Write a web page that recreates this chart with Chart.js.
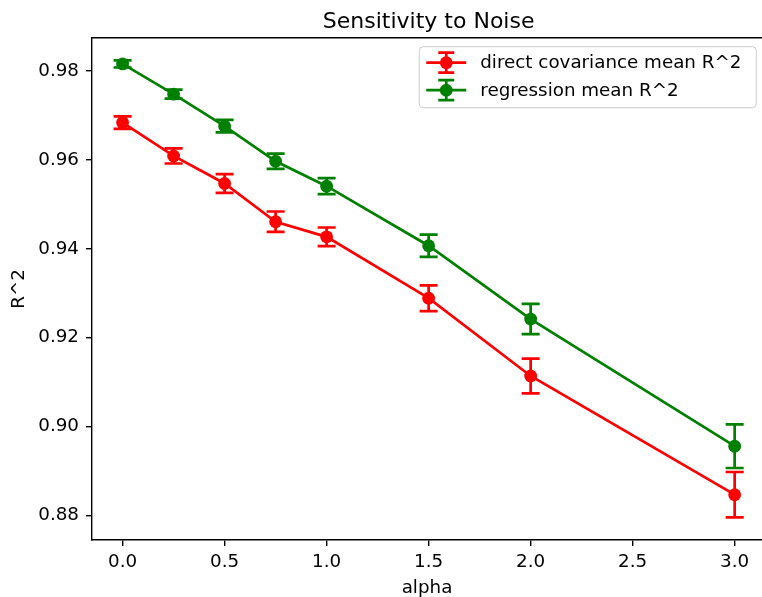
<!DOCTYPE html>
<html>
<head>
<meta charset="utf-8">
<script src="https://cdn.jsdelivr.net/npm/chart.js@4.4.1/dist/chart.umd.min.js"></script>
<style>
    html, body { margin: 0; padding: 0; background: #fff; }
    #wrap { width: 762px; height: 597px; }
</style>
</head>
<body>
<div id="wrap"><canvas id="myChart" width="762" height="597"></canvas></div>
<script>
// Valores
const alphas = [0, 0.25, 0.5, 0.75, 1.0, 1.5, 2.0, 3.0];
const directMean = [0.9684, 0.9609, 0.9547, 0.9461, 0.9427, 0.9289, 0.9114, 0.8847];
const directErr = [0.0014, 0.0017, 0.0021, 0.0023, 0.0021, 0.0029, 0.0039, 0.0051];
const regressionMean = [0.9816, 0.9748, 0.9676, 0.9597, 0.9541, 0.9407, 0.9242, 0.8956];
const regressionErr = [0.0008, 0.0010, 0.0014, 0.0017, 0.0018, 0.0025, 0.0034, 0.0049];

const xTicks = [0, 0.5, 1.0, 1.5, 2.0, 2.5, 3.0];
const yTicks = [0.88, 0.90, 0.92, 0.94, 0.96, 0.98];

const seriesLabels = ['direct covariance mean R^2', 'regression mean R^2'];
const titleText = 'Sensitivity to Noise';

const FONT = "'DejaVu Sans', sans-serif";
const LW = 2.7;
const CAP = 9;

function toPoints(xs, ys) {
    return xs.map((x, i) => ({ x: x, y: ys[i] }));
}

// Desenha as barras de erro de cada série
const errorBarPlugin = {
    id: 'errorBars',
    beforeDatasetDraw(chart, args) {
        const ds = chart.data.datasets[args.index];
        if (!ds.errors) return;
        const xs = chart.scales.x, ys = chart.scales.y;
        const ctx = chart.ctx;
        ctx.save();
        ctx.strokeStyle = ds.borderColor;
        ctx.lineWidth = LW;
        ds.data.forEach((p, i) => {
            const px = xs.getPixelForValue(p.x);
            const top = ys.getPixelForValue(p.y + ds.errors[i]);
            const bot = ys.getPixelForValue(p.y - ds.errors[i]);
            ctx.beginPath();
            ctx.moveTo(px, top); ctx.lineTo(px, bot);
            ctx.moveTo(px - CAP, top); ctx.lineTo(px + CAP, top);
            ctx.moveTo(px - CAP, bot); ctx.lineTo(px + CAP, bot);
            ctx.stroke();
        });
        ctx.restore();
    }
};

// Título, moldura superior e legenda no estilo matplotlib
const decorPlugin = {
    id: 'decor',
    afterDraw(chart) {
        const ctx = chart.ctx;
        const area = chart.chartArea;
        const xs = chart.scales.x;
        ctx.save();

        // linha superior do eixo
        ctx.strokeStyle = '#000';
        ctx.lineWidth = 1.4;
        ctx.beginPath();
        ctx.moveTo(area.left - 0.7, area.top);
        ctx.lineTo(area.right, area.top);
        ctx.stroke();

        // título centrado no eixo
        const center = xs.getPixelForValue(1.5);
        ctx.fillStyle = '#000';
        ctx.font = '22px ' + FONT;
        ctx.textAlign = 'center';
        ctx.textBaseline = 'alphabetic';
        ctx.fillText(titleText, center, 27.5);

        // legenda
        const axRight = xs.getPixelForValue(3.15);
        const boxW = 337, boxH = 61;
        const bx = axRight - 9 - boxW, by = area.top + 9;
        ctx.beginPath();
        ctx.roundRect(bx, by, boxW, boxH, 4);
        ctx.fillStyle = 'rgba(255,255,255,0.8)';
        ctx.fill();
        ctx.strokeStyle = '#cccccc';
        ctx.lineWidth = 1;
        ctx.stroke();

        ctx.font = '18.3px ' + FONT;
        ctx.textAlign = 'left';
        ctx.textBaseline = 'middle';
        chart.data.datasets.forEach((ds, i) => {
            const cy = by + 16 + i * 27.5;
            const hx = bx + 27;
            ctx.strokeStyle = ds.borderColor;
            ctx.lineWidth = LW;
            ctx.beginPath();
            ctx.moveTo(bx + 7, cy); ctx.lineTo(bx + 47, cy);
            ctx.moveTo(hx, cy - 10); ctx.lineTo(hx, cy + 10);
            ctx.moveTo(hx - 8, cy - 10); ctx.lineTo(hx + 8, cy - 10);
            ctx.moveTo(hx - 8, cy + 10); ctx.lineTo(hx + 8, cy + 10);
            ctx.stroke();
            ctx.fillStyle = ds.borderColor;
            ctx.beginPath();
            ctx.arc(hx, cy, 6.4, 0, Math.PI * 2);
            ctx.fill();
            ctx.fillStyle = '#000';
            ctx.fillText(ds.label, bx + 61, cy + 1);
        });
        ctx.restore();
    }
};

const ctx = document.getElementById('myChart').getContext('2d');
new Chart(ctx, {
    type: 'line',
    data: {
        datasets: [
            {
                label: seriesLabels[0],
                data: toPoints(alphas, directMean),
                errors: directErr,
                borderColor: '#ff0000',
                backgroundColor: '#ff0000',
                pointBackgroundColor: '#ff0000',
                borderWidth: LW,
                pointRadius: 6.4,
                pointBorderWidth: 0,
                tension: 0
            },
            {
                label: seriesLabels[1],
                data: toPoints(alphas, regressionMean),
                errors: regressionErr,
                borderColor: '#008000',
                backgroundColor: '#008000',
                pointBackgroundColor: '#008000',
                borderWidth: LW,
                pointRadius: 6.4,
                pointBorderWidth: 0,
                tension: 0
            }
        ]
    },
    options: {
        responsive: false,
        animation: false,
        devicePixelRatio: 1,
        layout: { autoPadding: false, padding: { top: 37.7, right: 0, bottom: 0, left: 0 } },
        scales: {
            x: {
                type: 'linear',
                min: -0.15,
                max: 3.134,
                afterBuildTicks: scale => { scale.ticks = xTicks.map(v => ({ value: v })); },
                afterFit: scale => {
                    scale.height = 57;
                    scale.paddingLeft = 0;
                    scale.paddingRight = 0;
                },
                ticks: {
                    color: '#000',
                    font: { family: FONT, size: 18.3 },
                    padding: 5,
                    maxRotation: 0,
                    autoSkip: false,
                    callback: v => Number(v).toFixed(1)
                },
                grid: { drawOnChartArea: false, drawTicks: true, tickLength: 6, color: '#000', lineWidth: 1.4 },
                border: { display: true, color: '#000', width: 1.4 },
                title: {
                    display: true,
                    text: 'alpha',
                    color: '#000',
                    font: { family: FONT, size: 18.3, lineHeight: 1.0 },
                    padding: { top: 0, bottom: 0 }
                }
            },
            y: {
                type: 'linear',
                min: 0.8745,
                max: 0.9875,
                afterBuildTicks: scale => { scale.ticks = yTicks.map(v => ({ value: v })); },
                afterFit: scale => {
                    scale.width = 92;
                    scale.paddingTop = 0;
                    scale.paddingBottom = 0;
                },
                ticks: {
                    color: '#000',
                    font: { family: FONT, size: 18.3 },
                    padding: 7,
                    callback: v => Number(v).toFixed(2)
                },
                grid: { drawOnChartArea: false, drawTicks: true, tickLength: 6, color: '#000', lineWidth: 1.4 },
                border: { display: true, color: '#000', width: 1.4 },
                title: {
                    display: true,
                    text: 'R^2',
                    color: '#000',
                    font: { family: FONT, size: 18.3 },
                    padding: { top: 8, bottom: 0 }
                }
            }
        },
        plugins: {
            legend: { display: false },
            title: { display: false },
            tooltip: { enabled: false }
        }
    },
    plugins: [errorBarPlugin, decorPlugin]
});
</script>
</body>
</html>
